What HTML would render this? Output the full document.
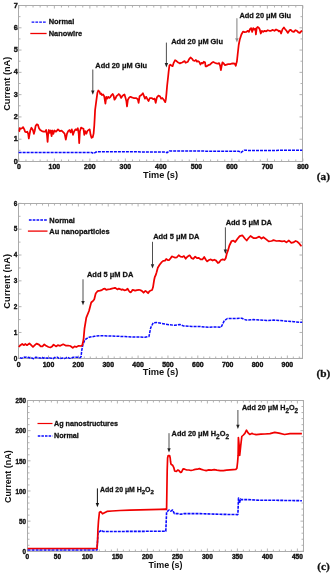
<!DOCTYPE html>
<html><head><meta charset="utf-8"><title>Figure</title>
<style>
html,body{margin:0;padding:0;background:#fff;}
body{width:334px;height:573px;overflow:hidden;font-family:"Liberation Sans",sans-serif;}
svg{display:block;will-change:transform;}
text{stroke:#111;stroke-width:0.28px;paint-order:stroke;}
text.t{stroke-width:0;}
.k text{stroke-width:0.4px;}
</style></head>
<body>
<svg width="334" height="573" viewBox="0 0 334 573">
<rect width="334" height="573" fill="#fff"/>
<rect x="18.5" y="5.5" width="284" height="156" fill="none" stroke="#ababab" stroke-width="1"/>
<path d="M18.84 161.5v-3M18.84 5.5v3M25.94 161.5v-2M25.94 5.5v2M33.04 161.5v-2M33.04 5.5v2M40.14 161.5v-2M40.14 5.5v2M47.25 161.5v-2M47.25 5.5v2M54.35 161.5v-3M54.35 5.5v3M61.45 161.5v-2M61.45 5.5v2M68.55 161.5v-2M68.55 5.5v2M75.65 161.5v-2M75.65 5.5v2M82.75 161.5v-2M82.75 5.5v2M89.86 161.5v-3M89.86 5.5v3M96.96 161.5v-2M96.96 5.5v2M104.06 161.5v-2M104.06 5.5v2M111.16 161.5v-2M111.16 5.5v2M118.26 161.5v-2M118.26 5.5v2M125.36 161.5v-3M125.36 5.5v3M132.46 161.5v-2M132.46 5.5v2M139.57 161.5v-2M139.57 5.5v2M146.67 161.5v-2M146.67 5.5v2M153.77 161.5v-2M153.77 5.5v2M160.87 161.5v-3M160.87 5.5v3M167.97 161.5v-2M167.97 5.5v2M175.07 161.5v-2M175.07 5.5v2M182.17 161.5v-2M182.17 5.5v2M189.28 161.5v-2M189.28 5.5v2M196.38 161.5v-3M196.38 5.5v3M203.48 161.5v-2M203.48 5.5v2M210.58 161.5v-2M210.58 5.5v2M217.68 161.5v-2M217.68 5.5v2M224.78 161.5v-2M224.78 5.5v2M231.89 161.5v-3M231.89 5.5v3M238.99 161.5v-2M238.99 5.5v2M246.09 161.5v-2M246.09 5.5v2M253.19 161.5v-2M253.19 5.5v2M260.29 161.5v-2M260.29 5.5v2M267.39 161.5v-3M267.39 5.5v3M274.49 161.5v-2M274.49 5.5v2M281.6 161.5v-2M281.6 5.5v2M288.7 161.5v-2M288.7 5.5v2M295.8 161.5v-2M295.8 5.5v2M302.9 161.5v-3M302.9 5.5v3M18.5 161.5h3M302.5 161.5h-3M18.5 150.36h2M302.5 150.36h-2M18.5 139.21h3M302.5 139.21h-3M18.5 128.07h2M302.5 128.07h-2M18.5 116.93h3M302.5 116.93h-3M18.5 105.79h2M302.5 105.79h-2M18.5 94.64h3M302.5 94.64h-3M18.5 83.5h2M302.5 83.5h-2M18.5 72.36h3M302.5 72.36h-3M18.5 61.21h2M302.5 61.21h-2M18.5 50.07h3M302.5 50.07h-3M18.5 38.93h2M302.5 38.93h-2M18.5 27.79h3M302.5 27.79h-3M18.5 16.64h2M302.5 16.64h-2M18.5 5.5h3M302.5 5.5h-3" stroke="#ababab" stroke-width="0.9" fill="none"/>
<g font-family="Liberation Sans" font-weight="bold" font-size="6.9" text-anchor="middle" fill="#111" class="k">
<text x="18.84" y="168.88">0</text>
<text x="54.35" y="168.88">100</text>
<text x="89.86" y="168.88">200</text>
<text x="125.36" y="168.88">300</text>
<text x="160.87" y="168.88">400</text>
<text x="196.38" y="168.88">500</text>
<text x="231.89" y="168.88">600</text>
<text x="267.39" y="168.88">700</text>
<text x="302.9" y="168.88">800</text>
</g>
<g font-family="Liberation Sans" font-weight="bold" font-size="7.7" text-anchor="end" fill="#111" class="k">
<text transform="translate(17.9 163.53) scale(0.95 1)">0</text>
<text transform="translate(17.9 141.25) scale(0.95 1)">1</text>
<text transform="translate(17.9 118.96) scale(0.95 1)">2</text>
<text transform="translate(17.9 96.68) scale(0.95 1)">3</text>
<text transform="translate(17.9 74.39) scale(0.95 1)">4</text>
<text transform="translate(17.9 52.1) scale(0.95 1)">5</text>
<text transform="translate(17.9 29.82) scale(0.95 1)">6</text>
<text transform="translate(17.9 7.53) scale(0.95 1)">7</text>
</g>
<text class="t" x="160.5" y="178.2" font-family="Liberation Sans" font-weight="bold" font-size="9.2" text-anchor="middle" fill="#111">Time (s)</text>
<text class="t" transform="translate(10.1 83.8) rotate(-90)" font-family="Liberation Sans" font-weight="bold" font-size="9.2" text-anchor="middle" fill="#111">Current (nA)</text>
<path d="M18.6 152.6 L92 152.6 L93.4 153.5 L95.5 152.3 L97 151.7 L130 151.8 L165.5 152.1 L167.2 152.7 L169.5 150.9 L200 151.1 L239 151.3 L240.9 152.6 L242.5 151.4 L244.4 150.2 L248 150.4 L270 150.4 L302.2 150.3" stroke="#0a0aff" stroke-width="1.5" fill="none" stroke-linejoin="round" stroke-linecap="butt" stroke-dasharray="3 1"/>
<path d="M18.8 131.5 L19.4 131.1 L19.7 128.2 L20.8 128.8 L22 128.2 L23.1 127.1 L24.3 129.4 L25.1 131.7 L26.2 132.2 L27.3 131.7 L28.2 133.9 L28.8 138.5 L29.4 135.1 L30.3 130.5 L31.4 127.7 L32.6 129.4 L33.4 131.7 L33.9 133.9 L34.8 130.5 L35.6 126 L36.8 124.3 L37.9 124.8 L39 128.2 L40.2 130 L41.9 131.1 L43.6 131.7 L45.3 131.7 L46.2 130 L47 135.1 L47.6 141.9 L48.1 135.1 L48.9 130 L49.9 132.8 L50.7 130.5 L51.6 136.2 L52.4 130.5 L53.3 133.9 L54.4 130.5 L56 131.7 L58 129.4 L59.8 131.2 L61.6 130.6 L63.4 132.4 L64.6 133.6 L65.8 139.6 L67 133.6 L68.2 131.2 L69.4 130 L70.6 132.4 L71.8 129.4 L73 134.8 L74.2 131.2 L75.4 129.4 L76.6 130 L77.8 128.2 L78.7 133.6 L79.2 143.1 L79.9 131.2 L81.1 127.6 L82.3 128.2 L83.5 128.8 L84.3 134.8 L85.2 131.2 L86.4 133.6 L87.3 131.2 L88.5 130 L89.7 129.4 L90.6 134.8 L91.5 137.8 L92.7 137.2 L93.6 133.6 L94.3 125.2 L94.7 118 L95.1 110 L96.3 100.8 L97.4 92.8 L98.3 90.5 L99.5 91.7 L100.3 94 L101.1 93.4 L102 95.1 L103.1 94.5 L104.2 96.2 L105.4 103.6 L106.3 96.8 L107.4 98.5 L108.2 96.8 L109.4 97.9 L110.5 96.8 L111.6 95.1 L112.8 94 L113.6 95.7 L114.5 99.7 L115.4 98.5 L116.5 96.2 L117.7 95.1 L118.8 94 L119.9 95.1 L121.1 97.9 L122.2 96.2 L123.4 95.1 L124.5 94.5 L125.4 97.4 L126.4 101.4 L127 106.5 L127.9 99.7 L129.3 97.4 L130.4 96.8 L131.8 97.4 L133.6 98 L136 98 L137.8 99.2 L138.6 102.8 L139.6 96.2 L141.4 95 L142.9 93.2 L143.8 95.6 L145 98.6 L146.2 96.8 L147.4 99.2 L148.6 101 L149.8 98 L151.6 98 L153.4 99.2 L154.6 98.6 L155.7 102.8 L156.9 97.4 L158.5 95.6 L159.9 96.2 L161.1 98.6 L162.3 98 L163.8 99.8 L165.3 102.2 L165.9 99.2 L166.5 93.2 L167.1 86 L168.2 76 L168.6 72 L169.4 65.7 L170.3 64.7 L171.4 65.4 L172.6 66.2 L173.7 62.8 L175.1 60.2 L176.5 61.1 L177.7 62.2 L178.8 62.8 L179.9 63.4 L181.1 62.8 L182.2 62.5 L183.4 61.7 L184.5 61.1 L185.6 62.8 L186.8 62.2 L187.9 61.7 L189 59.4 L190.5 57.5 L191.9 58.6 L193.3 60.5 L194.7 60.9 L195.9 60 L197 61.7 L198.1 61.1 L199.3 62 L200.4 64.5 L201.6 62.8 L202.7 63.4 L203.8 61.7 L205 62.2 L205.6 66.3 L206.7 66.3 L208.3 65.2 L209.9 64.7 L211.5 63.1 L213.2 62 L214.8 62.8 L216.4 63.4 L217.8 63.6 L219.1 63.1 L220.2 65.8 L220.9 70.1 L221.8 65.2 L222.5 62.3 L223.6 63.4 L225 65.2 L226.6 64.7 L228.2 64.2 L229.9 64.2 L231.5 63.6 L233.1 63.4 L234.7 63.6 L235.8 65.8 L236.3 63.6 L236.9 61.5 L237.6 55 L238.7 45 L239.8 39.4 L241.4 34.5 L243 31.6 L244.6 32.1 L246.2 31.9 L247.9 30.8 L248.9 31.9 L250 29.2 L251.1 28.1 L252.2 31.9 L253.2 28.1 L254.3 29.7 L255.4 28.6 L255.9 34.5 L256.7 28.1 L257.6 27 L258.6 27.5 L259.7 29.2 L260.8 33.5 L261.9 30.8 L263.2 31.9 L264.6 30.8 L266.2 31.3 L267.8 30.2 L269.4 30.8 L271 30.8 L272.8 29.9 L274.5 30.8 L276.1 29.5 L277.7 30.2 L278.8 31.3 L279.9 30.8 L281.1 33.5 L282.5 29.2 L283.9 27.5 L285.2 29.2 L286.5 30.8 L287.9 32.9 L289.6 30.2 L290.8 29.9 L292.2 31.3 L293.9 31.9 L295.5 30.2 L296.9 30.8 L298.4 32.4 L299.8 32.9 L301.2 31.3 L302.2 30.6" stroke="#f00000" stroke-width="1.75" fill="none" stroke-linejoin="round" stroke-linecap="butt"/>
<path d="M31.6 22.1 L46.8 22.1" stroke="#0a0aff" stroke-width="1.4" fill="none" stroke-linejoin="round" stroke-linecap="butt" stroke-dasharray="2.7 1.1"/>
<path d="M30.3 33.5 L46.6 33.5" stroke="#f00000" stroke-width="1.3" fill="none" stroke-linejoin="round" stroke-linecap="butt"/>
<text x="48.7" y="24" font-family="Liberation Sans" font-weight="bold" font-size="7.45" text-anchor="start" fill="#111">Normal</text>
<text x="48.7" y="36.1" font-family="Liberation Sans" font-weight="bold" font-size="7.45" text-anchor="start" fill="#111">Nanowire</text>
<text x="95.3" y="67.7" font-family="Liberation Sans" font-weight="bold" font-size="7.4" text-anchor="start" fill="#111">Add 20 μM Glu</text>
<path d="M92.8 69.5V91" stroke="#222" stroke-width="0.8" fill="none"/>
<path d="M91.1 90.5L94.5 90.5L92.8 94.8Z" fill="#222"/>
<text x="171.2" y="43.8" font-family="Liberation Sans" font-weight="bold" font-size="7.4" text-anchor="start" fill="#111">Add 20 μM Glu</text>
<path d="M166.4 42.6V63.6" stroke="#222" stroke-width="0.8" fill="none"/>
<path d="M164.7 63.1L168.1 63.1L166.4 67.4Z" fill="#222"/>
<text x="239.4" y="18" font-family="Liberation Sans" font-weight="bold" font-size="7.4" text-anchor="start" fill="#111">Add 20 μM Glu</text>
<path d="M236.9 18.2V38.7" stroke="#8a8a8a" stroke-width="1.1" fill="none"/>
<path d="M235.2 38.2L238.6 38.2L236.9 42.5Z" fill="#8a8a8a"/>
<text x="316.8" y="179.7" font-family="Liberation Serif" font-weight="bold" font-size="11.3" fill="#111">(a)</text>
<rect x="18.5" y="203.5" width="284" height="155" fill="none" stroke="#ababab" stroke-width="1"/>
<path d="M18.65 358.5v-3M18.65 203.5v3M24.62 358.5v-2M24.62 203.5v2M30.59 358.5v-2M30.59 203.5v2M36.56 358.5v-2M36.56 203.5v2M42.54 358.5v-2M42.54 203.5v2M48.51 358.5v-3M48.51 203.5v3M54.48 358.5v-2M54.48 203.5v2M60.45 358.5v-2M60.45 203.5v2M66.42 358.5v-2M66.42 203.5v2M72.39 358.5v-2M72.39 203.5v2M78.37 358.5v-3M78.37 203.5v3M84.34 358.5v-2M84.34 203.5v2M90.31 358.5v-2M90.31 203.5v2M96.28 358.5v-2M96.28 203.5v2M102.25 358.5v-2M102.25 203.5v2M108.22 358.5v-3M108.22 203.5v3M114.2 358.5v-2M114.2 203.5v2M120.17 358.5v-2M120.17 203.5v2M126.14 358.5v-2M126.14 203.5v2M132.11 358.5v-2M132.11 203.5v2M138.08 358.5v-3M138.08 203.5v3M144.05 358.5v-2M144.05 203.5v2M150.02 358.5v-2M150.02 203.5v2M156 358.5v-2M156 203.5v2M161.97 358.5v-2M161.97 203.5v2M167.94 358.5v-3M167.94 203.5v3M173.91 358.5v-2M173.91 203.5v2M179.88 358.5v-2M179.88 203.5v2M185.85 358.5v-2M185.85 203.5v2M191.83 358.5v-2M191.83 203.5v2M197.8 358.5v-3M197.8 203.5v3M203.77 358.5v-2M203.77 203.5v2M209.74 358.5v-2M209.74 203.5v2M215.71 358.5v-2M215.71 203.5v2M221.68 358.5v-2M221.68 203.5v2M227.66 358.5v-3M227.66 203.5v3M233.63 358.5v-2M233.63 203.5v2M239.6 358.5v-2M239.6 203.5v2M245.57 358.5v-2M245.57 203.5v2M251.54 358.5v-2M251.54 203.5v2M257.51 358.5v-3M257.51 203.5v3M263.48 358.5v-2M263.48 203.5v2M269.46 358.5v-2M269.46 203.5v2M275.43 358.5v-2M275.43 203.5v2M281.4 358.5v-2M281.4 203.5v2M287.37 358.5v-3M287.37 203.5v3M293.34 358.5v-2M293.34 203.5v2M299.31 358.5v-2M299.31 203.5v2M18.5 358.3h3M302.5 358.3h-3M18.5 345.39h2M302.5 345.39h-2M18.5 332.48h3M302.5 332.48h-3M18.5 319.57h2M302.5 319.57h-2M18.5 306.67h3M302.5 306.67h-3M18.5 293.76h2M302.5 293.76h-2M18.5 280.85h3M302.5 280.85h-3M18.5 267.94h2M302.5 267.94h-2M18.5 255.03h3M302.5 255.03h-3M18.5 242.12h2M302.5 242.12h-2M18.5 229.22h3M302.5 229.22h-3M18.5 216.31h2M302.5 216.31h-2M18.5 203.4h3M302.5 203.4h-3" stroke="#ababab" stroke-width="0.9" fill="none"/>
<g font-family="Liberation Sans" font-weight="bold" font-size="6.9" text-anchor="middle" fill="#111" class="k">
<text x="18.65" y="366.98">0</text>
<text x="48.51" y="366.98">100</text>
<text x="78.37" y="366.98">200</text>
<text x="108.22" y="366.98">300</text>
<text x="138.08" y="366.98">400</text>
<text x="167.94" y="366.98">500</text>
<text x="197.8" y="366.98">600</text>
<text x="227.66" y="366.98">700</text>
<text x="257.51" y="366.98">800</text>
<text x="287.37" y="366.98">900</text>
</g>
<g font-family="Liberation Sans" font-weight="bold" font-size="7.6" text-anchor="end" fill="#111" class="k">
<text transform="translate(17.25 360.5) scale(0.85 1)">0</text>
<text transform="translate(17.25 334.68) scale(0.85 1)">1</text>
<text transform="translate(17.25 308.86) scale(0.85 1)">2</text>
<text transform="translate(17.25 283.05) scale(0.85 1)">3</text>
<text transform="translate(17.25 257.23) scale(0.85 1)">4</text>
<text transform="translate(17.25 231.41) scale(0.85 1)">5</text>
<text transform="translate(17.25 205.6) scale(0.85 1)">6</text>
</g>
<text class="t" x="160.5" y="375.2" font-family="Liberation Sans" font-weight="bold" font-size="9.3" text-anchor="middle" fill="#111">Time (s)</text>
<text class="t" transform="translate(9.5 281.35) rotate(-90)" font-family="Liberation Sans" font-weight="bold" font-size="9.3" text-anchor="middle" fill="#111">Current (nA)</text>
<path d="M20 357.62 L21.12 358.14 L22.18 357.96 L23.47 357.19 L24.88 357.16 L26.22 357.21 L27.3 357.78 L28.96 357.3 L30.14 358.1 L31.89 358.02 L33.21 358.66 L34.25 358.47 L35.48 357.33 L36.58 357.59 L38.23 357.39 L39.69 358.12 L40.99 357.98 L42.04 357.2 L43.21 358.19 L44.55 357.6 L46.02 357.83 L47.26 358.37 L48.82 357.49 L50.28 357.94 L51.98 358.27 L53.21 358.67 L54.3 357.77 L55.91 357.34 L57.3 357.16 L58.83 358.32 L60.29 358.5 L61.54 358.21 L63.02 358.03 L64.38 358.44 L66.14 357.86 L67.67 357.2 L69.23 358.14 L71.02 358.42 L72.25 357.72 L73.79 357.14 L75.16 357.37 L76.25 357.19 L77.86 357.31 L79.06 357.73 L79.9 357.8 L81.1 356.6 L81.7 350.6 L82.9 344.6 L84.7 340.2 L86.5 338.6 L89 337.3 L94.4 336.3 L99.8 335.7 L106.9 335.9 L115.9 336.2 L124.9 336.6 L133.9 337 L140 337 L144.9 337.2 L149 336.4 L150.7 327.8 L153.2 322.8 L156.5 322.5 L163.1 323.7 L169.7 324.8 L174.7 325.3 L180 324.5 L183.4 325.9 L191.8 326.5 L200.2 326.5 L208.5 327.3 L216.9 326.9 L221.1 327.3 L224.3 320.6 L227.4 318.5 L233.7 318.5 L241.8 318.3 L246.3 320.1 L253.1 319.6 L259.9 320.1 L266.7 320.5 L273.5 320.1 L280.3 320.5 L287.1 321.2 L293.9 321.7 L300.7 322.3 L302.2 322.3" stroke="#0a0aff" stroke-width="1.5" fill="none" stroke-linejoin="round" stroke-linecap="butt" stroke-dasharray="3 1"/>
<path d="M18.8 347 L20.4 345.2 L22.2 344 L24 345.2 L25.2 344 L27 345.2 L29.4 343.4 L31.2 345.2 L33 347 L34.8 345.2 L36.6 343.6 L39 344.6 L40.7 346.4 L42.5 346.4 L44.3 344.3 L46.1 345.8 L48.5 347 L50.3 347.4 L52.1 346.4 L53.6 344.6 L56 346.4 L57.8 345.2 L60.2 345.8 L63.2 344.3 L65.6 345.5 L68 345.5 L70.4 346 L72.8 347.9 L74.6 346.4 L76.3 347 L78.7 345.8 L81.1 346 L82.3 345.2 L83.5 339.8 L84.5 328.5 L86.3 317.7 L89 311 L91.2 302.5 L93 300.8 L94.2 299.5 L95.7 293.5 L97.5 291.2 L99.9 290.7 L101.8 290.1 L103.7 288.8 L104.9 288.6 L106.2 289.8 L108.1 289.4 L110 289.1 L111.8 288.6 L113.7 288.2 L115 287.8 L116.2 288.6 L117.5 289.4 L118.8 288.6 L120 289.1 L121.3 289.8 L122.5 289.4 L124.4 290.3 L126.3 289.8 L127.6 288.8 L128.8 290.7 L130.1 292.3 L131.3 291.9 L132.6 289.8 L133.8 290.1 L135.1 290.7 L137 290.1 L138.9 289.8 L140 290 L141.8 290.9 L143.6 292.7 L145.4 290.9 L146.7 291.8 L148.1 293.2 L149.4 291.2 L150.8 290.5 L152.1 290 L153 287.3 L153.5 284.2 L154.2 279.7 L154.8 277 L155.7 275.2 L156.6 272.3 L157.8 267.8 L159.6 264.8 L161.4 262.4 L163.2 260.9 L165 260.6 L166.2 259 L167.7 260 L169.2 260 L170.6 258.2 L171.8 256.4 L173.4 257 L175.1 257.6 L176.9 257.3 L178.7 255.2 L180.5 256.6 L182.3 257 L183.9 256.1 L185.7 258.8 L187.1 257 L188.9 255.6 L189.8 255.4 L191.6 258.2 L193.4 258.8 L195.2 256.6 L197 258.2 L198.8 257.8 L200.6 259.4 L202.4 259.4 L204.2 257 L206 260 L207.2 261.4 L209 260 L210.8 259.4 L212.6 260.6 L214.3 259.7 L216.1 260.6 L217.9 263 L219.1 262.4 L220.9 260 L222.7 259.4 L224.5 260 L225.7 258.2 L226.9 253.4 L228 250.4 L229.4 245.5 L231.6 241 L233.4 240.6 L235.2 242 L237.5 238.8 L239.7 236.1 L242.3 235.3 L244.8 238.5 L246.7 240.5 L248.6 238 L250.5 236 L253.4 238 L256.3 238 L259.2 236.6 L261.5 238.5 L263.4 237.2 L265.9 239.1 L268.7 241.4 L271.6 241 L273.5 240.1 L276.4 241 L279.3 240.8 L282.1 241.4 L284.4 241 L286.4 242.4 L288.9 240.5 L291.3 242.9 L293.3 242.4 L295.6 241 L297.5 241.8 L299.4 243.7 L300.9 245.6 L301.6 246.2" stroke="#f00000" stroke-width="1.75" fill="none" stroke-linejoin="round" stroke-linecap="butt"/>
<path d="M28.9 220 L47.6 220" stroke="#0a0aff" stroke-width="1.4" fill="none" stroke-linejoin="round" stroke-linecap="butt" stroke-dasharray="2.7 1.1"/>
<path d="M27.9 231.1 L47.5 231.1" stroke="#f00000" stroke-width="1.3" fill="none" stroke-linejoin="round" stroke-linecap="butt"/>
<text x="49.3" y="222.6" font-family="Liberation Sans" font-weight="bold" font-size="7.45" text-anchor="start" fill="#111">Normal</text>
<text x="49.3" y="233.8" font-family="Liberation Sans" font-weight="bold" font-size="7.45" text-anchor="start" fill="#111">Au nanoparticles</text>
<text x="87" y="277" font-family="Liberation Sans" font-weight="bold" font-size="7.45" text-anchor="start" fill="#111">Add 5 μM DA</text>
<path d="M83 279.3V301.5" stroke="#222" stroke-width="0.8" fill="none"/>
<path d="M81.3 301L84.7 301L83 305.3Z" fill="#222"/>
<text x="153.2" y="238.8" font-family="Liberation Sans" font-weight="bold" font-size="7.45" text-anchor="start" fill="#111">Add 5 μM DA</text>
<path d="M152.5 241.8V264.7" stroke="#222" stroke-width="0.8" fill="none"/>
<path d="M150.8 264.2L154.2 264.2L152.5 268.5Z" fill="#222"/>
<text x="225.7" y="225" font-family="Liberation Sans" font-weight="bold" font-size="7.45" text-anchor="start" fill="#111">Add 5 μM DA</text>
<path d="M225.4 227.3V250.1" stroke="#222" stroke-width="0.8" fill="none"/>
<path d="M223.7 249.6L227.1 249.6L225.4 253.9Z" fill="#222"/>
<text x="316.4" y="376.7" font-family="Liberation Serif" font-weight="bold" font-size="11.3" fill="#111">(b)</text>
<rect x="27.5" y="400.5" width="276" height="151" fill="none" stroke="#ababab" stroke-width="1"/>
<path d="M27.4 551.5v-3M27.4 400.5v3M33.4 551.5v-2M33.4 400.5v2M39.4 551.5v-2M39.4 400.5v2M45.4 551.5v-2M45.4 400.5v2M51.4 551.5v-2M51.4 400.5v2M57.4 551.5v-3M57.4 400.5v3M63.4 551.5v-2M63.4 400.5v2M69.4 551.5v-2M69.4 400.5v2M75.4 551.5v-2M75.4 400.5v2M81.4 551.5v-2M81.4 400.5v2M87.4 551.5v-3M87.4 400.5v3M93.4 551.5v-2M93.4 400.5v2M99.4 551.5v-2M99.4 400.5v2M105.4 551.5v-2M105.4 400.5v2M111.4 551.5v-2M111.4 400.5v2M117.4 551.5v-3M117.4 400.5v3M123.4 551.5v-2M123.4 400.5v2M129.4 551.5v-2M129.4 400.5v2M135.4 551.5v-2M135.4 400.5v2M141.4 551.5v-2M141.4 400.5v2M147.4 551.5v-3M147.4 400.5v3M153.4 551.5v-2M153.4 400.5v2M159.4 551.5v-2M159.4 400.5v2M165.4 551.5v-2M165.4 400.5v2M171.4 551.5v-2M171.4 400.5v2M177.4 551.5v-3M177.4 400.5v3M183.4 551.5v-2M183.4 400.5v2M189.4 551.5v-2M189.4 400.5v2M195.4 551.5v-2M195.4 400.5v2M201.4 551.5v-2M201.4 400.5v2M207.4 551.5v-3M207.4 400.5v3M213.4 551.5v-2M213.4 400.5v2M219.4 551.5v-2M219.4 400.5v2M225.4 551.5v-2M225.4 400.5v2M231.4 551.5v-2M231.4 400.5v2M237.4 551.5v-3M237.4 400.5v3M243.4 551.5v-2M243.4 400.5v2M249.4 551.5v-2M249.4 400.5v2M255.4 551.5v-2M255.4 400.5v2M261.4 551.5v-2M261.4 400.5v2M267.4 551.5v-3M267.4 400.5v3M273.4 551.5v-2M273.4 400.5v2M279.4 551.5v-2M279.4 400.5v2M285.4 551.5v-2M285.4 400.5v2M291.4 551.5v-2M291.4 400.5v2M297.4 551.5v-3M297.4 400.5v3M303.4 551.5v-2M303.4 400.5v2M27.5 551.3h3M303.5 551.3h-3M27.5 545.27h2M303.5 545.27h-2M27.5 539.24h2M303.5 539.24h-2M27.5 533.2h2M303.5 533.2h-2M27.5 527.17h2M303.5 527.17h-2M27.5 521.14h3M303.5 521.14h-3M27.5 515.11h2M303.5 515.11h-2M27.5 509.08h2M303.5 509.08h-2M27.5 503.04h2M303.5 503.04h-2M27.5 497.01h2M303.5 497.01h-2M27.5 490.98h3M303.5 490.98h-3M27.5 484.95h2M303.5 484.95h-2M27.5 478.92h2M303.5 478.92h-2M27.5 472.88h2M303.5 472.88h-2M27.5 466.85h2M303.5 466.85h-2M27.5 460.82h3M303.5 460.82h-3M27.5 454.79h2M303.5 454.79h-2M27.5 448.76h2M303.5 448.76h-2M27.5 442.72h2M303.5 442.72h-2M27.5 436.69h2M303.5 436.69h-2M27.5 430.66h3M303.5 430.66h-3M27.5 424.63h2M303.5 424.63h-2M27.5 418.6h2M303.5 418.6h-2M27.5 412.56h2M303.5 412.56h-2M27.5 406.53h2M303.5 406.53h-2M27.5 400.5h3M303.5 400.5h-3" stroke="#ababab" stroke-width="0.9" fill="none"/>
<g font-family="Liberation Sans" font-weight="bold" font-size="6.5" text-anchor="middle" fill="#111" class="k">
<text x="27.4" y="558.94">0</text>
<text x="57.4" y="558.94">50</text>
<text x="87.4" y="558.94">100</text>
<text x="117.4" y="558.94">150</text>
<text x="147.4" y="558.94">200</text>
<text x="177.4" y="558.94">250</text>
<text x="207.4" y="558.94">300</text>
<text x="237.4" y="558.94">350</text>
<text x="267.4" y="558.94">400</text>
<text x="297.4" y="558.94">450</text>
</g>
<g font-family="Liberation Sans" font-weight="bold" font-size="7.0" text-anchor="end" fill="#111" class="k">
<text transform="translate(26 553.99) scale(0.9 1)">0</text>
<text transform="translate(26 523.83) scale(0.9 1)">50</text>
<text transform="translate(26 493.66) scale(0.9 1)">100</text>
<text transform="translate(26 463.5) scale(0.9 1)">150</text>
<text transform="translate(26 433.34) scale(0.9 1)">200</text>
<text transform="translate(26 403.19) scale(0.9 1)">250</text>
</g>
<text class="t" x="165.5" y="567.7" font-family="Liberation Sans" font-weight="bold" font-size="8.95" text-anchor="middle" fill="#111">Time (s)</text>
<text class="t" transform="translate(11.3 476.7) rotate(-90)" font-family="Liberation Sans" font-weight="bold" font-size="8.95" text-anchor="middle" fill="#111">Current (nA)</text>
<path d="M27.6 550 L97 550 L97.6 540 L98 532.3 L100 531.3 L101.5 530.2 L103 531.5 L110 531.5 L130 531.4 L150 531.3 L165.8 531.3 L166.6 512 L169 510 L170.8 511.2 L172.6 510 L174.4 513.6 L178 513.6 L181 514.2 L184 513.6 L200 513.6 L220 514.3 L237.5 514.6 L237.9 514.2 L238.5 498 L239.5 503 L240.5 499 L241.2 499.6 L248 499.6 L259.2 500.3 L274.9 500.3 L301.9 500.7" stroke="#0a0aff" stroke-width="1.6" fill="none" stroke-linejoin="round" stroke-linecap="butt" stroke-dasharray="3 1"/>
<path d="M27.6 548.5 L97 548.5 L97.6 540 L97.9 530 L98.5 521 L99.4 512.5 L100.5 511.6 L101.5 512.5 L102.5 513.8 L104.5 512.7 L107 511.4 L112 511 L120 510.5 L130 510.2 L140 509.9 L150 509.6 L160 509.4 L165.5 509.2 L166.6 509.3 L167.2 470 L167.6 458 L168.2 455.5 L169.6 455.5 L170.2 458 L170.6 462 L171 464.2 L172.6 465.2 L173.7 467.3 L174.7 471 L176.3 471.3 L177.9 470 L178.9 470.5 L180.5 472.4 L181.5 472.1 L183.1 468.9 L184.7 469.2 L186.8 470 L188.9 470 L191 470.5 L193.1 470 L195.2 469.4 L197.3 469.2 L199.4 468.6 L201.4 469.4 L203.5 470 L206.2 470.6 L208.8 469.9 L211.5 470.2 L214.2 469.7 L216.9 470.2 L220.2 470.6 L223.4 470.6 L226.6 470.2 L229.9 469.9 L233.1 469.7 L235.8 469.5 L236.9 468.1 L237.6 462 L238.1 455.4 L238.4 437.6 L239.2 446 L239.7 455.4 L240.7 446 L241.8 436.5 L243.4 435 L244.9 433.4 L246.5 430.2 L248.1 432.9 L249.7 434.4 L251.8 433.4 L253.3 434 L256.1 434.6 L260.9 434.2 L265 434 L270 433.6 L274.7 432.4 L279 433.2 L284.6 434.5 L290 433.7 L295 433.5 L301.9 433.7" stroke="#f00000" stroke-width="1.7" fill="none" stroke-linejoin="round" stroke-linecap="butt"/>
<path d="M37.5 423.5 L52.5 423.5" stroke="#f00000" stroke-width="1.2" fill="none" stroke-linejoin="round" stroke-linecap="butt"/>
<path d="M37.8 436 L52.5 436" stroke="#0a0aff" stroke-width="1.3" fill="none" stroke-linejoin="round" stroke-linecap="butt" stroke-dasharray="2.5 1.1"/>
<text x="54" y="426" font-family="Liberation Sans" font-weight="bold" font-size="7.2" text-anchor="start" fill="#111">Ag nanostructures</text>
<text x="54" y="438.2" font-family="Liberation Sans" font-weight="bold" font-size="7.2" text-anchor="start" fill="#111">Normal</text>
<text x="100" y="492" font-family="Liberation Sans" font-weight="bold" font-size="6.9" fill="#111">Add 20 μM H<tspan font-size="6.07" dy="2.4">2</tspan><tspan dy="-2.4">O</tspan><tspan font-size="6.07" dy="2.4">2</tspan></text>
<path d="M97.4 488.4V503.4" stroke="#111" stroke-width="1.0" fill="none"/>
<path d="M95.7 502.9L99.1 502.9L97.4 507.2Z" fill="#111"/>
<text x="171.6" y="436.4" font-family="Liberation Sans" font-weight="bold" font-size="7.35" fill="#111">Add 20 μM H<tspan font-size="6.47" dy="2.4">2</tspan><tspan dy="-2.4">O</tspan><tspan font-size="6.47" dy="2.4">2</tspan></text>
<path d="M169 433.2V448.8" stroke="#222" stroke-width="0.8" fill="none"/>
<path d="M167.3 448.3L170.7 448.3L169 452.6Z" fill="#222"/>
<text x="241.9" y="410.1" font-family="Liberation Sans" font-weight="bold" font-size="7.2" fill="#111">Add 20 μM H<tspan font-size="6.34" dy="2.4">2</tspan><tspan dy="-2.4">O</tspan><tspan font-size="6.34" dy="2.4">2</tspan></text>
<path d="M237.9 410V425.3" stroke="#222" stroke-width="0.8" fill="none"/>
<path d="M236.2 424.8L239.6 424.8L237.9 429.1Z" fill="#222"/>
<text x="317.2" y="570.1" font-family="Liberation Serif" font-weight="bold" font-size="11.3" fill="#111">(c)</text>
</svg>
</body></html>
